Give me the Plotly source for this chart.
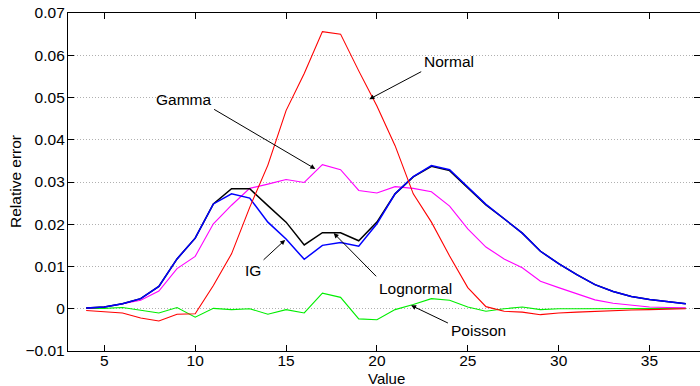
import plotly.graph_objects as go

values = list(range(4, 38))

normal = [-0.0004, -0.0007, -0.0010, -0.0022, -0.0029, -0.0013, -0.0012, 0.0055, 0.0130, 0.0240,
          0.0340, 0.0469, 0.0557, 0.0656, 0.0650, 0.0563, 0.0480, 0.0386, 0.0272, 0.0205,
          0.0125, 0.0050, 0.0005, -0.0006, -0.0008, -0.0014, -0.0010, -0.0008, -0.0006, -0.0004,
          -0.0003, -0.0002, -0.0001, 0.0000]
gamma = [0.0001, 0.0004, 0.0012, 0.0020, 0.0042, 0.0095, 0.0124, 0.0201, 0.0245, 0.0285,
         0.0295, 0.0306, 0.0299, 0.0341, 0.0329, 0.0280, 0.0274, 0.0289, 0.0285, 0.0277,
         0.0243, 0.0189, 0.0146, 0.0118, 0.0097, 0.0065, 0.0050, 0.0035, 0.0021, 0.0013,
         0.0008, 0.0004, 0.0003, 0.0002]
lognormal = [0.0002, 0.0004, 0.0012, 0.0024, 0.0053, 0.0118, 0.0167, 0.0248, 0.0284, 0.0284,
             0.0244, 0.0205, 0.0151, 0.0180, 0.0180, 0.0161, 0.0205, 0.0272, 0.0312, 0.0337,
             0.0327, 0.0287, 0.0246, 0.0213, 0.0179, 0.0136, 0.0107, 0.0081, 0.0057, 0.0041,
             0.0029, 0.0022, 0.0017, 0.0012]
ig = [0.0002, 0.0004, 0.0012, 0.0024, 0.0053, 0.0118, 0.0167, 0.0248, 0.0272, 0.0262,
      0.0205, 0.0165, 0.0117, 0.0150, 0.0157, 0.0148, 0.0201, 0.0272, 0.0313, 0.0339,
      0.0329, 0.0288, 0.0247, 0.0213, 0.0179, 0.0136, 0.0107, 0.0081, 0.0057, 0.0041,
      0.0029, 0.0022, 0.0017, 0.0012]
poisson = [0.0001, 0.0001, 0.0003, -0.0004, -0.0010, 0.0003, -0.0020, 0.0001, -0.0002, 0.0000,
           -0.0013, -0.0002, -0.0010, 0.0037, 0.0027, -0.0024, -0.0026, -0.0002, 0.0010, 0.0024,
           0.0020, 0.0004, -0.0006, 0.0000, 0.0004, -0.0002, 0.0000, 0.0000, 0.0000, 0.0000,
           0.0000, 0.0000, 0.0000, 0.0001]

x_ticks = [5, 10, 15, 20, 25, 30, 35]
y_ticks = [-0.01, 0.0, 0.01, 0.02, 0.03, 0.04, 0.05, 0.06, 0.07]
y_tick_text = ["\u22120.01", "0", "0.01", "0.02", "0.03", "0.04", "0.05", "0.06", "0.07"]

FONT = "Liberation Sans, Arial, Helvetica, sans-serif"
FS = 15.5

fig = go.Figure()
series = [
    ("Poisson", poisson, "#00ee00", 1.1),
    ("Gamma", gamma, "#ff00ff", 1.1),
    ("Lognormal", lognormal, "#000000", 1.5),
    ("IG", ig, "#0000ff", 1.5),
    ("Normal", normal, "#ff0000", 1.1),
]
for name, ys, color, w in series:
    fig.add_trace(go.Scatter(x=values, y=ys, mode="lines", name=name,
                             line=dict(color=color, width=w), showlegend=False))

# label annotations: (text, text_x, text_y, tail_x, tail_y, tip_x, tip_y)
labels = [
    ("Normal", 23.99, 0.0585, 22.52, 0.0563, 19.58, 0.0496),
    ("Gamma", 9.40, 0.0495, 10.96, 0.0474, 16.61, 0.0331),
    ("IG", 13.16, 0.00905, 13.68, 0.01125, 14.95, 0.0163),
    ("Lognormal", 22.15, 0.00473, 20.04, 0.00733, 17.62, 0.0179),
    ("Poisson", 25.58, -0.00513, 23.99, -0.00355, 21.88, 0.0008),
]
annotations = []
for text, tx, ty, ax, ay, px, py in labels:
    annotations.append(dict(x=px, y=py, ax=ax, ay=ay, xref="x", yref="y", axref="x", ayref="y",
                            text="", showarrow=True, arrowhead=2, arrowsize=1.0, arrowwidth=1,
                            arrowcolor="black"))
    annotations.append(dict(x=tx, y=ty, xref="x", yref="y", text=text, showarrow=False,
                            font=dict(family=FONT, size=FS, color="black"),
                            xanchor="center", yanchor="middle"))

annotations.append(dict(x=20.5, y=0, xref="x", yref="paper", text="Value", showarrow=False,
                        yshift=-27, xanchor="center", yanchor="middle",
                        font=dict(family=FONT, size=15, color="black")))
annotations.append(dict(x=0, y=0.5, xref="paper", yref="paper", text="Relative error",
                        showarrow=False, textangle=-90, xshift=-53, xanchor="center",
                        yanchor="middle", font=dict(family=FONT, size=FS, color="black")))

fig.update_layout(
    width=700, height=386,
    margin=dict(l=68, r=0, t=13, b=35),
    paper_bgcolor="white", plot_bgcolor="white",
    font=dict(family=FONT, size=FS, color="black"),
    annotations=annotations,
)
fig.update_xaxes(range=[3, 37.78], tickvals=x_ticks, ticks="inside", ticklen=6, tickwidth=1,
                 tickcolor="black", showline=True, linecolor="black", linewidth=1.3, mirror="ticks",
                 showgrid=False, zeroline=False, tickfont=dict(family=FONT, size=FS),
                 ticklabelstandoff=-5)
fig.update_yaxes(range=[-0.01, 0.07], tickvals=y_ticks, ticktext=y_tick_text, ticks="inside",
                 ticklen=6, tickwidth=1, tickcolor="black", showline=True, linecolor="black",
                 linewidth=1.3, mirror="ticks", showgrid=True, gridcolor="#b0b0b0",
                 griddash="1px,2px", gridwidth=1, zeroline=False,
                 tickfont=dict(family=FONT, size=FS), ticklabelstandoff=-1)

fig.write_html("out.html")
